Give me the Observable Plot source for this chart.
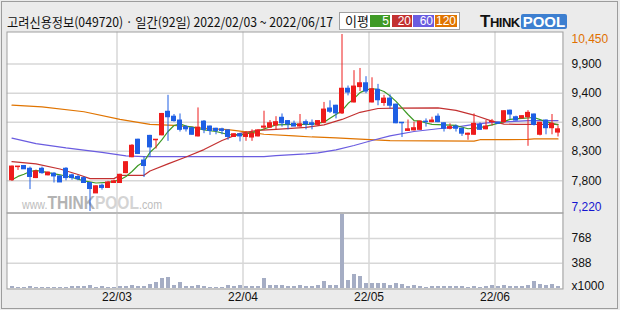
<!DOCTYPE html>
<html>
<head>
<meta charset="utf-8">
<script src="https://cdn.jsdelivr.net/npm/d3@7"></script>
<script src="https://cdn.jsdelivr.net/npm/@observablehq/plot@0.6"></script>
<style>
html,body{margin:0;padding:0;background:#ebebeb;}
#wrap{position:relative;width:620px;height:310px;overflow:hidden;background:#ebebeb;font-family:"Liberation Sans",Arial,sans-serif;color:#111;}
#outer{position:absolute;left:1px;top:1px;width:617px;height:308px;box-sizing:border-box;border:1px solid #9c9c9c;}
#panelbg{position:absolute;left:7px;top:32px;width:555px;height:256px;background:#fff;}
#title{position:absolute;left:7px;top:13px;font-family:"Noto Sans CJK KR",sans-serif;font-size:13px;line-height:17px;white-space:nowrap;transform-origin:0 0;color:#111;}
#legend{position:absolute;left:339px;top:12px;width:121px;height:18px;box-sizing:border-box;border:1px solid #a0a0a0;background:#fff;}
#legtxt{position:absolute;left:345px;top:12px;font-family:"Noto Sans CJK KR",sans-serif;font-size:13px;line-height:17px;color:#111;}
.lg{position:absolute;top:15px;height:12px;color:#fff;font-size:12px;line-height:12px;text-align:right;box-sizing:border-box;padding-right:1px;}
#logo{position:absolute;left:480px;top:12px;height:18px;white-space:nowrap;font-family:"Liberation Sans",Arial,sans-serif;font-weight:bold;}
#logo .t1{font-size:17px;color:#111;letter-spacing:-0.5px;}
#logo .t2{font-size:13px;color:#111;letter-spacing:-0.5px;}
#logo .pool{display:inline-block;background:#3d7fd0;color:#fff;font-size:15px;line-height:15px;padding:0 2px;border-radius:2px;margin-left:1px;}
#wm{position:absolute;left:22px;top:194px;white-space:nowrap;transform-origin:0 0;font-family:"Liberation Sans",Arial,sans-serif;line-height:18px;}
#wm .s{font-size:13px;color:#bdbdbd;}
#wm .b1{font-size:19px;font-weight:bold;color:#b3b3b3;}
#wm .b2{font-size:19px;font-weight:bold;color:#d4d4d4;}
svg.plotsvg{position:absolute;left:0;}
</style>
</head>
<body>
<div id="wrap">
  <div id="outer"></div>
  <div id="panelbg"></div>
  <div id="wm"><span class="s">www.</span><span class="b1">THINK</span><span class="b2">POOL</span><span class="s">.com</span></div>
  <div id="title"></div>
  <div id="legend"></div>
  <div id="legtxt">이평</div>
  <div id="logo"><span class="t1">T</span><span class="t2">HINK</span><span class="pool">POOL</span></div>
</div>
<script>
// ---- data ----
const stockName = "고려신용정보";
const stockCode = "049720";
const dates = [
"2022/02/03","2022/02/04","2022/02/07","2022/02/08","2022/02/09","2022/02/10","2022/02/11",
"2022/02/14","2022/02/15","2022/02/16","2022/02/17","2022/02/18",
"2022/02/21","2022/02/22","2022/02/23","2022/02/24","2022/02/25","2022/02/28",
"2022/03/02","2022/03/03","2022/03/04","2022/03/07","2022/03/08","2022/03/10","2022/03/11",
"2022/03/14","2022/03/15","2022/03/16","2022/03/17","2022/03/18",
"2022/03/21","2022/03/22","2022/03/23","2022/03/24","2022/03/25",
"2022/03/28","2022/03/29","2022/03/30","2022/03/31",
"2022/04/01","2022/04/04","2022/04/05","2022/04/06","2022/04/07","2022/04/08",
"2022/04/11","2022/04/12","2022/04/13","2022/04/14","2022/04/15",
"2022/04/18","2022/04/19","2022/04/20","2022/04/21","2022/04/22",
"2022/04/25","2022/04/26","2022/04/27","2022/04/28","2022/04/29",
"2022/05/02","2022/05/03","2022/05/04","2022/05/06",
"2022/05/09","2022/05/10","2022/05/11","2022/05/12","2022/05/13",
"2022/05/16","2022/05/17","2022/05/18","2022/05/19","2022/05/20",
"2022/05/23","2022/05/24","2022/05/25","2022/05/26","2022/05/27",
"2022/05/30","2022/05/31",
"2022/06/02","2022/06/03","2022/06/07","2022/06/08","2022/06/09","2022/06/10",
"2022/06/13","2022/06/14","2022/06/15","2022/06/16","2022/06/17"];

const open = [7790,8030,8050,8000,7830,8000,7880,7910,7860,8000,
7880,7850,7830,7740,7550,7690,7650,7740,7740,7920,
8210,8530,8150,8600,8520,8610,9040,8950,8880,8760,
8740,8590,8860,8770,8730,8720,8700,8580,8630,8580,
8570,8590,8750,8750,8790,8930,8870,8820,8770,8850,
8830,8800,8840,9100,9150,9010,9460,9210,9490,9560,
9210,9440,9200,9280,9170,8840,8690,8700,8710,8860,
8850,8950,8830,8730,8770,8730,8620,8620,8800,8720,
8850,8840,8850,9060,8940,8920,8940,8990,8620,8880,
8740,8660];
const high = [8050,8040,8060,8030,7970,8030,7940,7930,7870,8020,
7900,7880,7850,7750,7690,7720,7770,7790,7900,8130,
8440,8540,8220,8610,8530,9010,9340,8990,9000,8790,
8760,9110,8880,8780,8740,8740,8710,8640,8640,8680,
8710,8710,9050,8880,8950,9000,8880,8870,8990,8890,
8890,8870,9210,9240,9160,10450,9510,9790,9830,9680,
9660,9540,9340,9350,9180,8840,8890,8850,8870,8910,
8940,9000,8840,8820,8800,8740,8650,9000,8840,8880,
8900,8850,9060,9070,8960,8970,9060,9000,8840,8890,
8990,8780];
const low = [7770,7970,7990,7620,7820,7900,7870,7740,7750,7780,
7790,7780,7740,7220,7550,7610,7640,7730,7730,7910,
8200,8260,7840,8210,8360,8600,8500,8850,8670,8670,
8610,8580,8640,8610,8620,8620,8520,8570,8490,8500,
8500,8580,8700,8740,8700,8760,8710,8770,8760,8710,
8710,8780,8820,9010,8910,8990,9330,9200,9410,9370,
9200,9150,9140,9090,8820,8570,8680,8690,8700,8760,
8840,8840,8670,8710,8670,8590,8520,8610,8700,8710,
8780,8810,8830,8900,8870,8910,8410,8780,8600,8620,
8620,8580];
const close = [8040,8040,7990,7850,7950,7920,7930,7860,7750,7830,
7830,7810,7740,7630,7680,7650,7750,7770,7890,8120,
8420,8270,8050,8390,8530,9000,8940,8870,8710,8720,
8620,8750,8710,8690,8690,8690,8580,8630,8590,8630,
8640,8700,8770,8830,8850,8830,8810,8770,8810,8810,
8800,8870,9080,9040,9010,9460,9390,9500,9560,9410,
9450,9250,9280,9150,8830,8830,8720,8740,8860,8850,
8880,8850,8730,8760,8730,8640,8640,8820,8710,8770,
8860,8820,9050,8990,8880,8960,9020,8800,8840,8740,
8820,8720];
// volume in thousands of shares
const volume = [36,20,20,36,20,20,20,20,20,20,
36,36,36,51,20,36,20,20,36,36,
51,36,36,62,87,149,175,51,87,36,
36,51,36,20,20,20,51,36,51,36,
36,36,149,51,51,51,36,36,51,36,
36,51,113,51,51,1136,129,222,191,82,
82,82,82,51,82,67,36,51,36,20,
36,36,36,36,36,36,20,36,20,36,
51,36,51,36,36,36,51,113,67,51,
67,36];

// moving averages [trading-day index, value]
const ma5 = [[0,7800],[1,7860],[2,7900],[3,7950],[4,7970],[6,7930],[8,7890],[10,7840],[12,7780],[14,7740],[16,7750],[17,7770],[18,7800],[19,7860],[20,7950],[21,8060],[22,8130],[23,8300],[24,8400],[25,8530],[26,8680],[27,8790],[28,8820],[29,8780],[30,8760],[32,8710],[34,8680],[36,8625],[38,8615],[40,8660],[42,8725],[44,8800],[47,8810],[50,8810],[52,8850],[53,8920],[54,8990],[55,9060],[56,9190],[57,9280],[58,9390],[59,9440],[60,9460],[61,9450],[62,9410],[63,9330],[64,9230],[65,9110],[66,8990],[67,8880],[68,8870],[69,8835],[70,8810],[72,8800],[74,8790],[76,8730],[78,8750],[80,8800],[82,8860],[83,8900],[85,8920],[87,8935],[89,8860],[91,8800]];
const ma20 = [[0,8130],[4,8090],[8,7995],[11,7895],[13,7820],[17,7820],[18,7880],[22,7880],[23,7960],[26,8090],[29,8215],[32,8350],[35,8515],[38,8645],[41,8700],[44,8720],[49,8755],[52,8800],[55,8900],[58,9030],[61,9100],[64,9105],[71,9110],[74,9065],[77,8980],[80,8870],[82,8815],[84,8810],[91,8810]];
const ma60 = [[0,8560],[4,8460],[9,8380],[15,8300],[19,8235],[22,8220],[42,8220],[44,8240],[49,8270],[51,8290],[54,8345],[57,8425],[60,8515],[63,8600],[67,8680],[71,8730],[74,8760],[77,8810],[80,8845],[83,8860],[86,8880],[91,8880]];
const ma120 = [[0,9160],[5,9130],[12,9040],[18,8900],[23,8810],[27,8790],[33,8730],[36,8715],[42,8630],[47,8600],[50,8580],[54,8565],[58,8540],[63,8515],[77,8505],[78,8530],[86,8535],[87,8545],[91,8545]];

// axis ticks: evenly spaced grid lines and their rounded labels
const priceGrid = [9910, 9380, 8850, 8320, 7780];
const priceLabels = ["9,900", "9,400", "8,800", "8,300", "7,800"];
const volGrid = [388, 768];
const volLabels = ["388", "768"];
const volTop = 1160;
const maPeriods = [5, 20, 60, 120];
const maColors = ["#3f9a26", "#c33131", "#6a5ce0", "#e07400"];

// ---- build ----
const N = dates.length;
const candles = dates.map((d, i) => ({i, date: d, open: open[i], high: high[i], low: low[i], close: close[i], vol: volume[i]}));
const RED = "#ee1c1c", BLUE = "#1f5fe4";
const col = d => d.close >= d.open ? RED : BLUE;
const months = [];
dates.forEach((d, i) => {
  if (i > 0 && d.slice(5, 7) !== dates[i - 1].slice(5, 7))
    months.push({pos: i - 0.5, label: d.slice(2, 4) + "/" + d.slice(5, 7)});
});
const maSeries = [ma5, ma20, ma60, ma120];
const xOpt = {domain: [0, N - 1], range: [11.5, 557.5], axis: null};
const font = "Liberation Sans, Arial, sans-serif";
const pMax = d3.max(high), pMin = d3.min(low);
const fmt = d3.format(",");

const price = Plot.plot({
  width: 620, height: 182,
  marginLeft: 6.5, marginRight: 57.5, marginTop: 0.5, marginBottom: 0.5,
  x: xOpt,
  y: {domain: [pMin, pMax], range: [180, 3], axis: null},
  style: {background: "none", fontFamily: font, fontSize: "12px", color: "#111", overflow: "visible"},
  marks: [
    Plot.ruleY(priceGrid, {stroke: "#d7d7d7", strokeWidth: 1.5}),
    Plot.ruleX(months, {x: "pos", stroke: "#d7d7d7", strokeWidth: 1.5}),
    ...[3, 2, 1, 0].map(k => Plot.line(maSeries[k], {x: d => d[0], y: d => d[1], stroke: maColors[k], strokeWidth: 1.2})),
    Plot.ruleX(candles, {x: "i", y1: "low", y2: "high", stroke: col, strokeWidth: 1}),
    Plot.rect(candles, {x1: d => d.i - 5 / 12, x2: d => d.i + 5 / 12, y1: "open", y2: "close", fill: col, insetTop: -0.5, insetBottom: -0.5}),
    Plot.frame({stroke: "#a0a0a0"}),
    Plot.text(priceGrid, {y: d => d, text: (d, i) => priceLabels[i], frameAnchor: "right", textAnchor: "start", dx: 8.5, fill: "#111", fontSize: 12}),
    Plot.text([pMax], {y: d => d, text: d => fmt(d), frameAnchor: "right", textAnchor: "start", dx: 8.5, dy: 4.5, fill: "#e07000", fontSize: 12}),
    Plot.text([pMin], {y: d => d, text: d => fmt(d), frameAnchor: "right", textAnchor: "start", dx: 8.5, dy: -4.5, fill: "#1515d0", fontSize: 12})
  ]
});
price.classList.add("plotsvg");
price.style.top = "31px";

const vol = Plot.plot({
  width: 620, height: 98,
  marginLeft: 6.5, marginRight: 57.5, marginTop: 0.5, marginBottom: 21.5,
  x: xOpt,
  y: {domain: [0, volTop], range: [76, 0.5], axis: null},
  style: {background: "none", fontFamily: font, fontSize: "12px", color: "#111", overflow: "visible"},
  marks: [
    Plot.ruleY(volGrid, {stroke: "#d7d7d7", strokeWidth: 1.5}),
    Plot.ruleX(months, {x: "pos", stroke: "#d7d7d7", strokeWidth: 1.5}),
    Plot.rect(candles, {x1: d => d.i - 1 / 3, x2: d => d.i + 1 / 3, y1: 0, y2: "vol", fill: "#a5adc4", shapeRendering: "crispEdges"}),
    Plot.frame({stroke: "#a0a0a0"}),
    Plot.text(volGrid, {y: d => d, text: (d, i) => volLabels[i], frameAnchor: "right", textAnchor: "start", dx: 8.5, fill: "#111", fontSize: 12}),
    Plot.text(["x1000"], {y: 0, text: d => d, frameAnchor: "right", textAnchor: "start", dx: 8.5, dy: -2, fill: "#111", fontSize: 12}),
    Plot.text(months, {x: "pos", text: "label", frameAnchor: "bottom", dy: 12, fill: "#111", fontSize: 12})
  ]
});
vol.classList.add("plotsvg");
vol.style.top = "212px";

const wrap = document.getElementById("wrap");
wrap.appendChild(price);
wrap.appendChild(vol);

// title built from data
const title = document.getElementById("title");
title.textContent = `${stockName}(${stockCode}) · 일간(${N}일) ${dates[0]} ~ ${dates[N - 1]}`;
const tw = title.getBoundingClientRect().width;
title.style.transform = `scaleX(${326 / tw})`;

// legend boxes
const boxX = [370, 392, 413, 435], boxW = [20, 20, 21, 22];
maPeriods.forEach((p, k) => {
  const b = document.createElement("div");
  b.className = "lg";
  b.style.left = boxX[k] + "px";
  b.style.width = boxW[k] + "px";
  b.style.background = maColors[k];
  b.textContent = p;
  wrap.appendChild(b);
});

// watermark width fit
const wm = document.getElementById("wm");
const ww = wm.getBoundingClientRect().width;
wm.style.transform = `scaleX(${140 / ww})`;
</script>
</body>
</html>
